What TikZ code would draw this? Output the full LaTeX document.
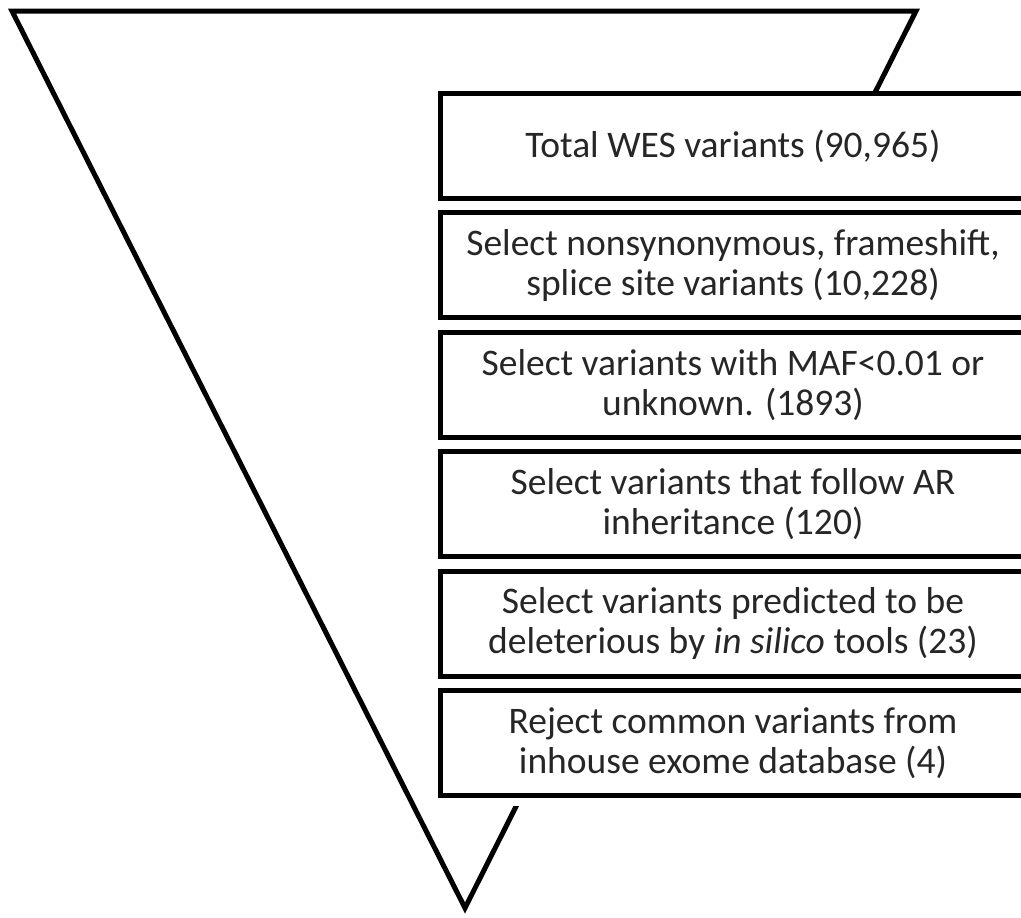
\documentclass[tikz,border=0pt]{standalone}
\usepackage{fontspec}
\setmainfont{Carlito}
\begin{document}
\begin{tikzpicture}[x=1pt,y=-1pt,
  funnel/.style={line width=5pt, line join=miter},
  stage/.style={draw, line width=5pt, fill=white, rectangle,
    minimum width=586pt, minimum height=105pt, inner sep=0pt,
    align=center, text=black!85,
    font=\fontsize{37.5}{40}\selectfont},
  cover/.style={fill=white, draw=none, rectangle, inner sep=0pt,
    minimum width=600pt, minimum height=714pt}]
  \useasboundingbox (0,0) rectangle (1021,918);
  \clip (0,0) rectangle (1021,918);
  % funnel outline
  \coordinate (tl) at (12,11);
  \coordinate (tr) at (916,11);
  \coordinate (bt) at (465,908);
  \draw[funnel] (tl) -- (tr) -- (bt) -- cycle;
  % white panel behind the filter stages
  \node[cover] (panel) at (740,449) {};
  % filter stages
  \node[stage] (s1) at (733,146)   {Total WES variants (90,965)};
  \node[stage] (s2) at (733,265.4) {Select nonsynonymous, frameshift,\\splice site variants (10,228)};
  \node[stage] (s3) at (733,384.8) {Select variants with MAF<0.01 or\\unknown. (1893)};
  \node[stage] (s4) at (733,504.2) {Select variants that follow AR\\inheritance (120)};
  \node[stage] (s5) at (733,623.6) {Select variants predicted to be\\deleterious by \textit{in silico} tools (23)};
  \node[stage] (s6) at (733,743)   {Reject common variants from\\inhouse exome database (4)};
\end{tikzpicture}
\end{document}
